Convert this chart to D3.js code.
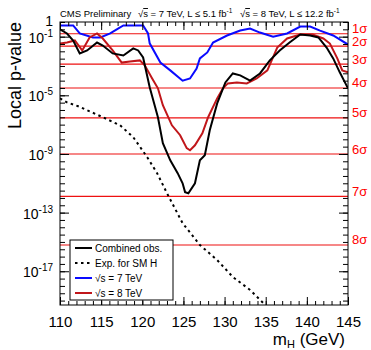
<!DOCTYPE html>
<html>
<head>
<meta charset="utf-8">
<script src="https://cdn.jsdelivr.net/npm/d3@7"></script>
<style>
  body { margin: 0; background: #fff; }
  text { font-family: "Liberation Sans", Arial, sans-serif; }
</style>
</head>
<body>
<div id="chart"></div>
<script>
// observed local p-value, combined 7+8 TeV
var obsMass = [110, 110.85, 111.6, 112.4, 113.3, 114.5, 115.2, 116.4, 117.7, 118.9, 119.5, 120.1, 120.9, 121.9, 122.5, 123.4, 124.3, 124.9, 125.2, 125.6, 126.4, 127.0, 127.6, 128.2, 129.1, 130.1, 131.0, 131.9, 133.1, 134.3, 135.5, 136.7, 137.9, 139.2, 140.4, 141.4, 142.4, 143.2, 144.0, 145];
var obsP = [0.31, 0.165, 0.055, 7.2e-3, 0.0115, 0.040, 0.025, 7.2e-3, 5.2e-3, 0.016, 0.0115, 3.8e-3, 3.5e-5, 3.2e-7, 5.4e-9, 3.7e-10, 4.9e-11, 1.0e-11, 2.5e-12, 2.1e-12, 1.0e-11, 3.7e-10, 8.1e-10, 4.1e-8, 2.8e-6, 7.6e-5, 3.1e-4, 2.3e-4, 1.0e-4, 3.1e-4, 2.4e-3, 0.0115, 0.040, 0.14, 0.12, 0.088, 0.018, 3.3e-3, 3.7e-4, 3.0e-5];

// expected for SM Higgs
var expMass = [110, 110.85, 112.2, 113.6, 115.2, 117.3, 118.9, 120.6, 121.8, 123.0, 124.9, 127.0, 129.1, 131.0, 133.1, 134.7, 135.5];
var expP = [6.2e-6, 3.3e-6, 1.8e-6, 8.1e-7, 3.2e-7, 9e-8, 1.4e-8, 6e-10, 4.9e-11, 2.1e-12, 1.9e-14, 6.2e-16, 5.8e-17, 4.1e-18, 5.3e-19, 6.9e-20, 2e-20];

// 7 TeV only
var s7Mass = [110, 111.6, 112.4, 114, 114.9, 116.1, 116.9, 117.7, 120.1, 120.7, 120.9, 122.2, 123.4, 124.9, 125.8, 126.6, 127.0, 127.9, 128.6, 130.3, 131.9, 133.1, 134.3, 135.9, 137.6, 139.2, 140.4, 141.6, 143.2, 145];
var s7P = [0.58, 0.58, 0.165, 0.088, 0.088, 0.165, 0.31, 0.58, 0.58, 0.165, 0.035, 1.7e-3, 5e-4, 1.0e-4, 1.4e-4, 6.8e-4, 3.3e-3, 8.4e-3, 0.040, 0.12, 0.26, 0.36, 0.19, 0.10, 0.165, 0.49, 0.49, 0.26, 0.12, 0.029];

// 8 TeV only
var s8Mass = [110, 110.85, 111.8, 112.7, 113.6, 114.5, 115.2, 116.4, 117.5, 118.5, 119.7, 120.3, 121.2, 121.9, 122.5, 123.6, 124.6, 125.4, 125.8, 126.4, 127.3, 128.0, 129.1, 129.8, 130.4, 131.5, 132.7, 133.9, 135.2, 136.4, 137.6, 139.2, 140.7, 142.0, 142.8, 143.7, 144.3, 145];
var s8P = [0.034, 0.040, 0.055, 0.0115, 0.088, 0.165, 0.075, 0.0115, 1.7e-3, 2.0e-3, 2.4e-3, 1.1e-3, 1.4e-4, 3.0e-5, 2.1e-6, 9e-8, 1.9e-8, 2.5e-9, 1.8e-9, 3.9e-9, 2.6e-8, 3.2e-7, 6.2e-6, 3.0e-5, 6.5e-5, 7.6e-5, 6.5e-5, 1.4e-4, 5.0e-4, 0.018, 0.075, 0.14, 0.14, 0.075, 0.034, 3.3e-3, 5.0e-4, 3.7e-4];

// significance reference lines
var sigmaLabels = ["1σ", "2σ", "3σ", "4σ", "5σ", "6σ", "7σ", "8σ"];
var sigmaP = [0.1587, 0.02275, 1.35e-3, 3.17e-5, 2.87e-7, 9.87e-10, 1.28e-12, 6.22e-16];

var xTickLabels = [110, 115, 120, 125, 130, 135, 140, 145];
var yLabelExp = [0, -1, -5, -9, -13, -17];

var legendNames = ["Combined obs.", "Exp. for SM H", "√s = 7 TeV", "√s = 8 TeV"];

var W = 371, H = 350;
var svg = d3.select("#chart").append("svg")
    .attr("width", W).attr("height", H);

var x = d3.scaleLinear().domain([110, 145]).range([60, 348]);
var y = d3.scaleLog().domain([5e-20, 1]).range([305, 22]);

var x0 = x.range()[0], x1 = x.range()[1], yT = y.range()[1], yB = y.range()[0];

svg.append("defs").append("clipPath").attr("id", "clip")
  .append("rect").attr("x", x0).attr("y", yT).attr("width", x1 - x0).attr("height", yB - yT);

// sigma lines
var plot = svg.append("g").attr("clip-path", "url(#clip)");
plot.selectAll("line.sig")
  .data(sigmaP)
  .join("line")
    .attr("class", "sig")
    .attr("x1", x0).attr("x2", x1)
    .attr("y1", d => y(d)).attr("y2", d => y(d))
    .attr("stroke", "#ee1111").attr("stroke-width", 1.1);

svg.selectAll("text.sig")
  .data(sigmaP)
  .join("text")
    .attr("class", "sig")
    .attr("x", x1 + 4)
    .attr("y", d => y(d) - 0.5)
    .attr("fill", "#ff0000")
    .style("font-size", "13px")
    .text((d, i) => sigmaLabels[i]);

// curves
function zip(ms, ps) { return ms.map((m, i) => ({m: m, p: ps[i]})); }
var line = d3.line().x(d => x(d.m)).y(d => y(d.p));

var series = [
  {data: zip(s7Mass, s7P), color: "#0a0aff", dash: null},
  {data: zip(s8Mass, s8P), color: "#c0161a", dash: null},
  {data: zip(obsMass, obsP), color: "#000", dash: null},
  {data: zip(expMass, expP), color: "#000", dash: "2.5,3.5"}
];
plot.selectAll("path.curve")
  .data(series)
  .join("path")
    .attr("class", "curve")
    .attr("d", d => line(d.data))
    .attr("fill", "none")
    .attr("stroke", d => d.color)
    .attr("stroke-width", 2)
    .attr("stroke-dasharray", d => d.dash);

// x axes (ticks inside)
var minorX = d3.range(110, 146, 1);
svg.append("g").attr("transform", "translate(0," + yB + ")")
  .call(d3.axisBottom(x).tickValues(minorX).tickSize(-4).tickFormat(""))
  .call(g => g.select(".domain").remove());
svg.append("g").attr("transform", "translate(0," + yB + ")")
  .call(d3.axisBottom(x).tickValues(xTickLabels).tickSize(-8).tickPadding(11).tickFormat(d3.format("d")))
  .call(g => g.select(".domain").remove())
  .call(g => g.selectAll("text").style("font-size", "15px").attr("fill", "#000")
      .style("font-family", "Liberation Sans, Arial, sans-serif"));
svg.append("g").attr("transform", "translate(0," + yT + ")")
  .call(d3.axisTop(x).tickValues(minorX).tickSize(-4).tickFormat(""))
  .call(g => g.select(".domain").remove());
svg.append("g").attr("transform", "translate(0," + yT + ")")
  .call(d3.axisTop(x).tickValues(xTickLabels).tickSize(-8).tickFormat(""))
  .call(g => g.select(".domain").remove());

// y axes, half-decade secondary ticks, primaries every 4 decades
var minorY = d3.range(0, -19.5, -0.5).map(e => Math.pow(10, e));
var majorY = [-1, -5, -9, -13, -17].map(e => Math.pow(10, e));
svg.append("g").attr("transform", "translate(" + x0 + ",0)")
  .call(d3.axisLeft(y).tickValues(minorY).tickSize(-5).tickFormat(""))
  .call(g => g.select(".domain").remove());
svg.append("g").attr("transform", "translate(" + x0 + ",0)")
  .call(d3.axisLeft(y).tickValues(majorY).tickSize(-9).tickFormat(""))
  .call(g => g.select(".domain").remove());
svg.append("g").attr("transform", "translate(" + x1 + ",0)")
  .call(d3.axisRight(y).tickValues(minorY).tickSize(-5).tickFormat(""))
  .call(g => g.select(".domain").remove());
svg.append("g").attr("transform", "translate(" + x1 + ",0)")
  .call(d3.axisRight(y).tickValues(majorY).tickSize(-9).tickFormat(""))
  .call(g => g.select(".domain").remove());

// y labels with superscripts
var yl = svg.selectAll("text.ylab")
  .data(yLabelExp)
  .join("text")
    .attr("class", "ylab")
    .attr("x", 53)
    .attr("y", d => y(Math.pow(10, d)) + (d === 0 ? 4 : 6))
    .attr("text-anchor", "end")
    .style("font-size", "14px");
yl.each(function(d) {
  var t = d3.select(this);
  if (d === 0) { t.text("1"); return; }
  t.append("tspan").text("10");
  t.append("tspan").attr("dy", -6).style("font-size", "10px").text(d);
});

// frame
svg.append("rect")
  .attr("x", x0).attr("y", yT).attr("width", x1 - x0).attr("height", yB - yT)
  .attr("fill", "none").attr("stroke", "#000").attr("stroke-width", 1);

// axis titles
svg.append("text")
  .attr("transform", "translate(21," + yT + ") rotate(-90)")
  .attr("text-anchor", "end")
  .style("font-size", "18px")
  .text("Local p-value");

var xt = svg.append("text")
  .attr("x", 345).attr("y", 345)
  .attr("text-anchor", "end")
  .style("font-size", "17px");
xt.append("tspan").text("m");
xt.append("tspan").attr("dy", 3).style("font-size", "11px").text("H");
xt.append("tspan").attr("dy", -3).text(" (GeV)");

// header
var hd = svg.append("text").attr("x", 60).attr("y", 17).style("font-size", "9.5px");
hd.append("tspan").text("CMS Preliminary");
hd.append("tspan").attr("x", 138).text("√");
hd.append("tspan").style("text-decoration", "overline").text("s");
hd.append("tspan").text(" = 7 TeV, L ≤ 5.1 fb");
hd.append("tspan").attr("dy", -4).style("font-size", "6.5px").text("-1");
hd.append("tspan").attr("dy", 4).attr("x", 240).text("√");
hd.append("tspan").style("text-decoration", "overline").text("s");
hd.append("tspan").text(" = 8 TeV, L ≤ 12.2 fb");
hd.append("tspan").attr("dy", -4).style("font-size", "6.5px").text("-1");

// legend
var leg = svg.append("g");
leg.append("rect")
  .attr("x", 70).attr("y", 240).attr("width", 103).attr("height", 60)
  .attr("fill", "#fff").attr("stroke", "#000").attr("stroke-width", 1);
var legY = [248, 263, 278, 293];
var legSeries = [series[2], series[3], series[0], series[1]];
leg.selectAll("line.li")
  .data(legSeries)
  .join("line")
    .attr("class", "li")
    .attr("x1", 75).attr("x2", 92)
    .attr("y1", (d, i) => legY[i]).attr("y2", (d, i) => legY[i])
    .attr("stroke", d => d.color).attr("stroke-width", 2)
    .attr("stroke-dasharray", d => d.dash);
leg.selectAll("text.lt")
  .data(legendNames)
  .join("text")
    .attr("class", "lt")
    .attr("x", 95)
    .attr("y", (d, i) => legY[i] + 3.5)
    .style("font-size", "10px")
    .text(d => d);
</script>
</body>
</html>
